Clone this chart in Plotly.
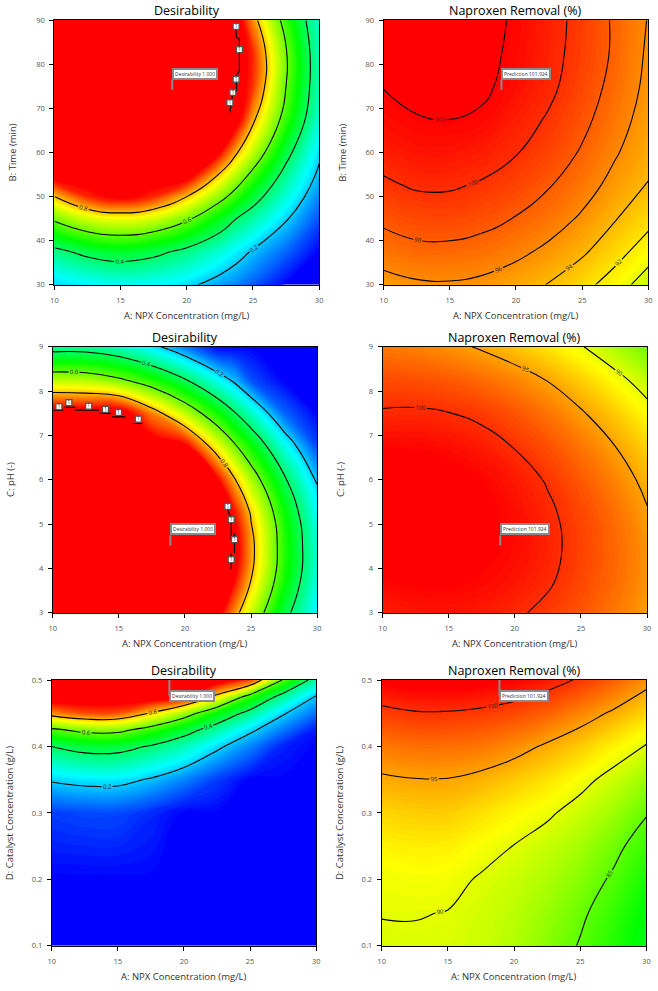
import plotly.graph_objects as go

# ---------------- data ----------------
npx_conc = [10, 12.5, 15, 17.5, 20, 22.5, 25, 27.5, 30]                 # A: NPX concentration (mg/L)
npx_conc_des = [10, 12.5, 15, 17.5, 20, 22.5, 23.75, 25, 27.5, 30]      # A grid for A x B / A x C desirability
time_des = [30, 37.5, 45, 50, 55, 60, 67.5, 75, 82.5, 90]               # B: time (min), desirability grid
time_rem = [30, 37.5, 45, 52.5, 60, 67.5, 75, 82.5, 90]                 # B: time (min), removal grid
ph_vals = [3, 3.75, 4.5, 5.25, 6, 6.75, 7.5, 8.25, 9]                   # C: pH
cat_des = [0.1, 0.2, 0.3, 0.35, 0.4, 0.425, 0.45, 0.475, 0.5]           # D: catalyst (g/L), desirability grid
cat_rem = [0.1, 0.15, 0.2, 0.25, 0.3, 0.35, 0.4, 0.45, 0.5]             # D: catalyst (g/L), removal grid

# Desirability, A x B (rows = time_des, cols = npx_conc_des)
des_AB = [
    [0.21, 0.24, 0.26, 0.25, 0.22, 0.16, 0.13, 0.09, 0.00, 0.00],
    [0.37, 0.43, 0.46, 0.43, 0.37, 0.29, 0.24, 0.19, 0.10, 0.00],
    [0.62, 0.71, 0.74, 0.71, 0.62, 0.48, 0.40, 0.34, 0.21, 0.08],
    [0.80, 0.92, 0.97, 0.92, 0.80, 0.64, 0.55, 0.45, 0.29, 0.13],
    [1.00, 1.00, 1.00, 1.00, 1.00, 0.79, 0.68, 0.57, 0.36, 0.18],
    [1.00, 1.00, 1.00, 1.00, 1.00, 0.95, 0.81, 0.69, 0.44, 0.22],
    [1.00, 1.00, 1.00, 1.00, 1.00, 1.00, 0.99, 0.82, 0.55, 0.29],
    [1.00, 1.00, 1.00, 1.00, 1.00, 1.00, 1.00, 0.91, 0.60, 0.32],
    [1.00, 1.00, 1.00, 1.00, 1.00, 1.00, 1.00, 0.92, 0.61, 0.32],
    [1.00, 1.00, 1.00, 1.00, 1.00, 1.00, 1.00, 0.84, 0.55, 0.30],
]
# Naproxen removal (%), A x B (rows = time_rem, cols = npx_conc)
rem_AB = [
    [95.2, 95.7, 95.8, 95.5, 94.8, 93.9, 92.6, 91.1, 88.8],
    [97.0, 97.5, 97.5, 97.2, 96.5, 95.5, 94.3, 92.7, 91.0],
    [98.4, 98.9, 99.0, 98.6, 97.9, 97.0, 95.7, 94.1, 92.6],
    [99.7, 100.2, 100.2, 99.8, 99.1, 98.1, 96.9, 95.3, 93.9],
    [100.7, 101.2, 101.2, 100.8, 100.1, 99.1, 97.8, 96.2, 94.6],
    [101.5, 101.9, 102.0, 101.75, 100.8, 99.8, 98.5, 96.9, 95.1],
    [102.05, 102.5, 102.5, 102.3, 101.4, 100.4, 99.0, 97.4, 95.5],
    [102.4, 102.9, 102.8, 102.4, 101.7, 100.6, 99.3, 97.7, 95.7],
    [102.6, 103.0, 102.9, 102.5, 101.8, 100.7, 99.4, 97.7, 95.9],
]
# Desirability, A x C (rows = ph_vals, cols = npx_conc_des)
des_AC = [
    [1.00, 1.00, 1.00, 1.00, 1.00, 0.98, 0.84, 0.70, 0.44, 0.24],
    [1.00, 1.00, 1.00, 1.00, 1.00, 1.00, 0.95, 0.80, 0.52, 0.28],
    [1.00, 1.00, 1.00, 1.00, 1.00, 1.00, 0.99, 0.83, 0.54, 0.29],
    [1.00, 1.00, 1.00, 1.00, 1.00, 1.00, 0.94, 0.79, 0.51, 0.26],
    [1.00, 1.00, 1.00, 1.00, 1.00, 0.95, 0.81, 0.67, 0.42, 0.19],
    [1.00, 1.00, 1.00, 1.00, 0.97, 0.74, 0.62, 0.51, 0.28, 0.07],
    [1.00, 1.00, 1.00, 0.85, 0.69, 0.51, 0.41, 0.31, 0.10, 0.00],
    [0.68, 0.67, 0.62, 0.53, 0.41, 0.26, 0.18, 0.08, 0.00, 0.00],
    [0.35, 0.35, 0.31, 0.23, 0.12, 0.00, 0.00, 0.00, 0.00, 0.00],
]
# Naproxen removal (%), A x C (rows = ph_vals, cols = npx_conc)
rem_AC = [
    [100.7, 101.0, 101.1, 100.9, 100.3, 99.5, 98.4, 96.9, 95.2],
    [101.9, 102.2, 102.2, 101.8, 101.2, 100.3, 99.0, 97.5, 95.7],
    [102.7, 102.9, 102.7, 102.3, 101.6, 100.6, 99.2, 97.6, 95.7],
    [103.0, 103.1, 102.8, 102.3, 101.5, 100.4, 99.0, 97.3, 95.2],
    [102.8, 102.8, 102.5, 101.9, 101.0, 99.8, 98.2, 96.4, 94.3],
    [101.8, 101.8, 101.5, 100.9, 99.9, 98.6, 97.0, 95.1, 92.9],
    [100.2, 100.3, 100.05, 99.5, 98.4, 97.0, 95.3, 93.3, 91.0],
    [98.8, 98.6, 98.2, 97.4, 96.3, 94.9, 93.1, 91.0, 88.7],
    [96.8, 96.4, 95.7, 94.7, 93.5, 92.0, 90.2, 88.0, 85.5],
]
# Desirability, A x D (rows = cat_des, cols = npx_conc)
des_AD = [
    [0.00, 0.00, 0.00, 0.00, 0.00, 0.00, 0.00, 0.00, 0.00],
    [0.00, 0.00, 0.00, 0.00, 0.00, 0.00, 0.00, 0.00, 0.00],
    [0.06, 0.07, 0.07, 0.04, 0.00, 0.00, 0.00, 0.00, 0.00],
    [0.21, 0.23, 0.23, 0.19, 0.13, 0.06, 0.00, 0.00, 0.00],
    [0.40, 0.44, 0.44, 0.39, 0.32, 0.22, 0.13, 0.03, 0.00],
    [0.58, 0.63, 0.63, 0.55, 0.45, 0.34, 0.22, 0.12, 0.02],
    [0.84, 0.89, 0.89, 0.79, 0.66, 0.50, 0.36, 0.21, 0.11],
    [1.00, 1.00, 1.00, 1.00, 0.96, 0.77, 0.55, 0.35, 0.19],
    [1.00, 1.00, 1.00, 1.00, 1.00, 1.00, 0.91, 0.59, 0.34],
]
# Naproxen removal (%), A x D (rows = cat_rem, cols = npx_conc)
rem_AD = [
    [89.6, 89.7, 89.6, 89.1, 88.2, 86.6, 84.8, 82.8, 80.6],
    [90.1, 90.1, 89.95, 89.3, 88.5, 87.2, 85.5, 83.5, 81.2],
    [90.5, 90.7, 90.6, 89.8, 89.0, 88.0, 86.5, 84.6, 82.3],
    [91.4, 91.7, 91.6, 90.8, 89.95, 88.9, 87.7, 85.8, 83.5],
    [92.8, 93.1, 93.1, 92.3, 91.3, 90.4, 89.0, 87.4, 85.2],
    [94.6, 94.9, 94.9, 94.3, 93.3, 92.2, 90.8, 89.1, 87.3],
    [96.8, 97.2, 97.2, 96.9, 96.0, 94.6, 93.2, 91.5, 89.8],
    [99.3, 99.8, 99.8, 99.5, 98.9, 97.9, 96.3, 94.6, 92.7],
    [102.3, 102.8, 102.9, 102.6, 102.0, 101.0, 99.7, 98.0, 95.9],
]

# desirability = 1 boundary traced in the reference (A x B and A x C plots)
one_AB_x = [23.26, 23.48, 23.76, 23.76, 23.98, 23.98, 23.73, 23.73]
one_AB_y = [69.1, 73.6, 74.0, 77.4, 78.5, 85.6, 86.3, 89.0]
one_AB_lab_x = [23.73, 23.98, 23.73, 23.48, 23.26]
one_AB_lab_y = [88.6, 83.3, 76.6, 73.6, 71.3]
one_AC_x = [10.05, 10.8, None, 10.9, 11.7, None, 11.7, 13.5, None, 13.5, 14.4, None, 14.5, 15.5, None, 16.0, 16.8,
            None, 23.2, 23.5, 23.5, None, 23.75, 23.75, None, 23.5, 23.5]
one_AC_y = [7.57, 7.57, None, 7.64, 7.64, None, 7.57, 7.57, None, 7.50, 7.50, None, 7.42, 7.42, None, 7.27, 7.27,
            None, 5.36, 5.10, 4.65, None, 4.80, 4.35, None, 4.35, 3.98]
one_AC_lab_x = [10.47, 11.22, 12.72, 13.99, 14.98, 16.48, 23.25, 23.5, 23.75, 23.5]
one_AC_lab_y = [7.65, 7.74, 7.66, 7.59, 7.52, 7.37, 5.40, 5.10, 4.65, 4.20]

# optimum point (flag)
opt_A, opt_B, opt_C, opt_D = 18.9, 74.2, 4.52, 0.5
opt_desirability = "1.000"
opt_prediction = "101.924"

# ---------------- styling ----------------
FONT = "Open Sans"
des_cs = [[0, "#0000ff"], [0.25, "#00ffff"], [0.5, "#00ff00"], [0.75, "#ffff00"], [0.95, "#ff0000"],
          [1, "#ff0000"]]
rmin, rmax = 62.0, 102.0
rem_cs = [[0, "#0000ff"], [(72 - rmin) / (rmax - rmin), "#00ffff"], [(81.5 - rmin) / (rmax - rmin), "#00ff00"],
          [(91 - rmin) / (rmax - rmin), "#ffff00"], [1, "#ff0000"]]

W, H = 658, 991
boxes = [(51, 319, 15.3, 282.7), (384.3, 652.3, 15.3, 282.7),
         (49.3, 317, 345.3, 614), (383.3, 651, 345.3, 614),
         (48.3, 316, 682, 950.3), (382.3, 650.3, 682, 950.3)]

panels = [
    dict(x=npx_conc_des, y=time_des, z=des_AB, kind="des", lv=(0.2, 0.8, 0.2), title="Desirability",
         ytitle="B: Time (min)", yr=[30, 90], ytick=10, oy=opt_B, txt="Desirability " + opt_desirability,
         ones=(one_AB_x, one_AB_y, one_AB_lab_x, one_AB_lab_y)),
    dict(x=npx_conc, y=time_rem, z=rem_AB, kind="rem", lv=(90, 102, 2), title="Naproxen Removal (%)",
         ytitle="B: Time (min)", yr=[30, 90], ytick=10, oy=opt_B, txt="Prediction " + opt_prediction),
    dict(x=npx_conc_des, y=ph_vals, z=des_AC, kind="des", lv=(0.2, 0.8, 0.2), title="Desirability",
         ytitle="C: pH (-)", yr=[3, 9], ytick=1, oy=opt_C, txt="Desirability " + opt_desirability,
         ones=(one_AC_x, one_AC_y, one_AC_lab_x, one_AC_lab_y)),
    dict(x=npx_conc, y=ph_vals, z=rem_AC, kind="rem", lv=(90, 100, 5), title="Naproxen Removal (%)",
         ytitle="C: pH (-)", yr=[3, 9], ytick=1, oy=opt_C, txt="Prediction " + opt_prediction),
    dict(x=npx_conc, y=cat_des, z=des_AD, kind="des", lv=(0.2, 0.8, 0.2), title="Desirability",
         ytitle="D: Catalyst Concentration (g/L)", yr=[0.1, 0.5], ytick=0.1, oy=opt_D,
         txt="Desirability " + opt_desirability),
    dict(x=npx_conc, y=cat_rem, z=rem_AD, kind="rem", lv=(85, 100, 5), title="Naproxen Removal (%)",
         ytitle="D: Catalyst Concentration (g/L)", yr=[0.1, 0.5], ytick=0.1, oy=opt_D,
         txt="Prediction " + opt_prediction),
]

fig = go.Figure()
annotations = []
for i, (p, bx) in enumerate(zip(panels, boxes)):
    n = "" if i == 0 else str(i + 1)
    l, r, t, b = bx
    if p["kind"] == "des":
        cs, step, lo, hi, fmt = des_cs, 0.01, 0.0, 1.0, ".1f"
    else:
        cs, step, lo, hi, fmt = rem_cs, 0.25, rmin, rmax, ".0f"
    # smooth colour fill (many thin bands)
    fig.add_trace(go.Contour(
        x=p["x"], y=p["y"], z=p["z"], colorscale=cs, autocontour=False,
        contours=dict(start=lo + step / 2, end=hi - step / 2 + step * 0.01, size=step, coloring="fill",
                      showlines=False),
        line=dict(width=0, smoothing=1.3), showscale=False, hoverinfo="skip",
        xaxis="x" + n, yaxis="y" + n))
    # black contour lines with labels
    fig.add_trace(go.Contour(
        x=p["x"], y=p["y"], z=p["z"], autocontour=False,
        contours=dict(start=p["lv"][0], end=p["lv"][1], size=p["lv"][2], coloring="none",
                      showlabels=True, labelformat=fmt,
                      labelfont=dict(size=6, color="#222", family=FONT)),
        line=dict(color="black", width=1.1, smoothing=1.3), showscale=False, hoverinfo="skip",
        xaxis="x" + n, yaxis="y" + n))
    if "ones" in p:
        ox, oy, lx, ly = p["ones"]
        fig.add_trace(go.Scatter(x=ox, y=oy, mode="lines", line=dict(color="black", width=1.2),
                                 hoverinfo="skip", xaxis="x" + n, yaxis="y" + n, connectgaps=False))
        fig.add_trace(go.Scatter(x=lx, y=ly, mode="markers+text", text=["1"] * len(lx),
                                 textposition="middle center",
                                 textfont=dict(size=5, color="#333", family=FONT),
                                 marker=dict(symbol="square", size=6, color="white",
                                             line=dict(color="#555", width=1.3)),
                                 hoverinfo="skip", xaxis="x" + n, yaxis="y" + n))
    ax = dict(domain=[l / W, r / W], anchor="y" + n, range=[10, 30], dtick=5, tick0=10,
              showline=True, mirror=True, linecolor="black", linewidth=1, ticks="outside", ticklen=4,
              tickcolor="black", tickfont=dict(size=7.5, color="#555", family=FONT), showgrid=False,
              zeroline=False, ticklabelstandoff=4, ticklabeloverflow="allow")
    ay = dict(domain=[1 - b / H, 1 - t / H], anchor="x" + n, range=p["yr"], dtick=p["ytick"], tick0=p["yr"][0],
              showline=True, mirror=True, linecolor="black", linewidth=1, ticks="outside", ticklen=4,
              tickcolor="black", tickfont=dict(size=7.5, color="#555", family=FONT), showgrid=False,
              zeroline=False, ticklabelstandoff=3, ticklabeloverflow="allow")
    fig.update_layout({"xaxis" + n: ax, "yaxis" + n: ay})
    cx = (l + r) / 2 / W
    annotations.append(dict(text=p["title"], x=cx, y=1 - (t - 9.5) / H, xref="paper", yref="paper",
                            showarrow=False, xanchor="center", yanchor="middle",
                            font=dict(size=12.5, color="black", family=FONT)))
    annotations.append(dict(text="A: NPX Concentration (mg/L)", x=cx, y=1 - (b + 31) / H, xref="paper",
                            yref="paper", showarrow=False, xanchor="center", yanchor="middle",
                            font=dict(size=9.5, color="#333", family=FONT)))
    annotations.append(dict(text=p["ytitle"], x=(l - 42) / W, y=1 - (t + b) / 2 / H, xref="paper", yref="paper",
                            showarrow=False, xanchor="center", yanchor="middle", textangle=-90,
                            font=dict(size=9.5, color="#333", family=FONT)))
    top = p["oy"] >= p["yr"][1] - 1e-9
    annotations.append(dict(text=p["txt"], x=opt_A, y=p["oy"], xref="x" + n, yref="y" + n,
                            showarrow=True, arrowhead=0, arrowwidth=2, arrowcolor="#8a8a8a",
                            ax=0, ay=(16 if top else -10), xanchor="left",
                            yanchor=("middle" if top else "bottom"),
                            bgcolor="white", bordercolor="#8a8a8a", borderwidth=2, borderpad=1,
                            font=dict(size=5, color="#333", family=FONT)))

fig.update_layout(width=W, height=H, margin=dict(l=0, r=0, t=0, b=0), paper_bgcolor="white",
                  plot_bgcolor="white", annotations=annotations, showlegend=False)
fig.write_html("out.html", config={"displayModeBar": False},
               post_script="document.body.style.margin='0';")
